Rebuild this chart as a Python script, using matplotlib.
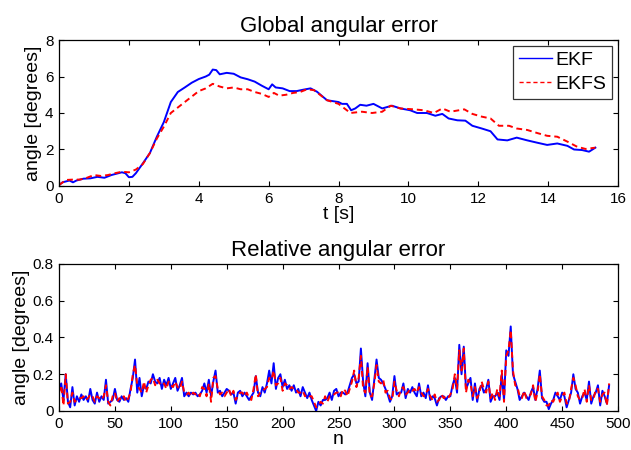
import numpy as np
import matplotlib
matplotlib.use("Agg")
import matplotlib.pyplot as plt

plt.rcParams['font.family'] = ['Liberation Sans', 'DejaVu Sans']

# --- global angular error ---
t_ekf = [0.0, 0.1, 0.2, 0.3, 0.4, 0.5, 0.7, 0.9, 1.1, 1.3, 1.5, 1.7, 1.8, 1.9,
         2.0, 2.1, 2.2, 2.4, 2.6, 2.8, 3.0, 3.2, 3.4, 3.6, 3.8, 4.0, 4.2, 4.3,
         4.4, 4.5, 4.6, 4.8, 5.0, 5.2, 5.4, 5.6, 5.8, 6.0, 6.1, 6.2, 6.4, 6.6,
         6.8, 7.0, 7.2, 7.38, 7.67, 8.0, 8.1, 8.24, 8.36, 8.48, 8.62, 8.8, 9.0,
         9.25, 9.53, 9.77, 10.05, 10.25, 10.53, 10.77, 10.97, 11.15, 11.4,
         11.63, 11.83, 12.1, 12.35, 12.55, 12.83, 13.1, 13.4, 13.69, 13.97,
         14.26, 14.55, 14.74, 14.97, 15.17, 15.35]
ekf_glob = [0.05, 0.2, 0.25, 0.3, 0.2, 0.3, 0.4, 0.42, 0.5, 0.45, 0.6, 0.7, 0.75, 0.7,
            0.48, 0.5, 0.7, 1.24, 1.8, 2.7, 3.5, 4.6, 5.15, 5.4, 5.66, 5.86, 6.0, 6.1,
            6.38, 6.35, 6.12, 6.2, 6.15, 5.95, 5.85, 5.72, 5.5, 5.3, 5.57, 5.4, 5.35, 5.2,
            5.2, 5.28, 5.35, 5.17, 4.7, 4.6, 4.5, 4.5, 4.15, 4.25, 4.45, 4.4, 4.5,
            4.25, 4.4, 4.25, 4.15, 4.0, 4.0, 3.85, 3.95, 3.7, 3.6,
            3.58, 3.3, 3.15, 3.0, 2.55, 2.5, 2.65, 2.5, 2.37, 2.25,
            2.33, 2.2, 2.0, 1.97, 1.88, 2.1]

t_ekfs = [0.0, 0.2, 0.4, 0.6, 0.8, 1.0, 1.2, 1.4, 1.6, 1.8, 2.0, 2.2, 2.4, 2.6,
          2.8, 3.0, 3.2, 3.4, 3.6, 3.8, 4.0, 4.2, 4.4, 4.6, 4.8, 5.0, 5.2, 5.4,
          5.6, 5.8, 6.0, 6.15, 6.3, 6.5, 6.7, 6.9, 7.1, 7.3, 7.67, 8.0, 8.34,
          8.67, 8.96, 9.25, 9.49, 9.77, 10.15, 10.44, 10.73, 10.97, 11.2, 11.6,
          11.83, 12.1, 12.35, 12.59, 12.88, 13.1, 13.4, 13.69, 13.97, 14.26,
          14.55, 14.83, 15.07, 15.35]
ekfs_glob = [0.05, 0.33, 0.35, 0.35, 0.45, 0.6, 0.55, 0.6, 0.7, 0.78, 0.75, 0.9, 1.2, 1.8,
             2.6, 3.25, 4.0, 4.3, 4.6, 4.9, 5.2, 5.35, 5.6, 5.45, 5.35, 5.4, 5.3, 5.3,
             5.15, 5.05, 4.88, 5.1, 4.95, 5.0, 5.1, 5.15, 5.3, 5.25, 4.7, 4.5, 4.0,
             4.07, 4.0, 4.07, 4.4, 4.25, 4.2, 4.15, 4.0, 4.25, 4.07, 4.2,
             3.95, 3.8, 3.7, 3.3, 3.3, 3.15, 3.07, 2.9, 2.75, 2.7,
             2.43, 2.15, 2.03, 2.1]

# --- relative angular error, every second sample n = 0, 2, ..., 492 ---
n = np.arange(0, 494, 2)
ekf_rel = [
    0.12, 0.15, 0.06, 0.20, 0.05, 0.02, 0.13, 0.03, 0.08, 0.05,
    0.09, 0.06, 0.08, 0.05, 0.12, 0.06, 0.04, 0.10, 0.05, 0.08,
    0.06, 0.17, 0.04, 0.05, 0.06, 0.12, 0.06, 0.05, 0.08, 0.06,
    0.07, 0.05, 0.12, 0.18, 0.28, 0.10, 0.18, 0.08, 0.14, 0.12,
    0.16, 0.15, 0.20, 0.16, 0.15, 0.18, 0.12, 0.17, 0.14, 0.18,
    0.12, 0.15, 0.18, 0.11, 0.14, 0.18, 0.08, 0.10, 0.08, 0.10,
    0.09, 0.10, 0.08, 0.09, 0.11, 0.15, 0.10, 0.17, 0.08, 0.16,
    0.22, 0.10, 0.11, 0.08, 0.10, 0.12, 0.11, 0.09, 0.10, 0.04,
    0.10, 0.11, 0.08, 0.10, 0.08, 0.06, 0.08, 0.10, 0.19, 0.10,
    0.08, 0.13, 0.10, 0.15, 0.22, 0.15, 0.26, 0.12, 0.18, 0.20,
    0.13, 0.17, 0.12, 0.14, 0.11, 0.14, 0.10, 0.12, 0.08, 0.13,
    0.10, 0.07, 0.10, 0.06, 0.03, 0.00, 0.05, 0.03, 0.06, 0.06,
    0.07, 0.10, 0.06, 0.11, 0.12, 0.08, 0.10, 0.10, 0.09, 0.10,
    0.14, 0.18, 0.20, 0.15, 0.16, 0.34, 0.16, 0.08, 0.26, 0.10,
    0.06, 0.17, 0.28, 0.18, 0.17, 0.15, 0.12, 0.09, 0.05, 0.08,
    0.19, 0.09, 0.10, 0.10, 0.15, 0.07, 0.12, 0.10, 0.13, 0.10,
    0.08, 0.15, 0.08, 0.10, 0.07, 0.14, 0.06, 0.08, 0.07, 0.03,
    0.07, 0.08, 0.08, 0.06, 0.08, 0.08, 0.14, 0.18, 0.10, 0.36,
    0.20, 0.35, 0.12, 0.15, 0.18, 0.06, 0.15, 0.05, 0.12, 0.14,
    0.10, 0.12, 0.17, 0.05, 0.08, 0.08, 0.10, 0.06, 0.20, 0.06,
    0.33, 0.30, 0.46, 0.20, 0.16, 0.12, 0.06, 0.08, 0.10, 0.08,
    0.06, 0.10, 0.13, 0.06, 0.12, 0.22, 0.07, 0.05, 0.05, 0.01,
    0.04, 0.06, 0.10, 0.08, 0.06, 0.10, 0.08, 0.02, 0.06, 0.10,
    0.20, 0.12, 0.10, 0.04, 0.08, 0.10, 0.06, 0.16, 0.04, 0.08,
    0.10, 0.14, 0.03, 0.11, 0.08, 0.04, 0.14]
ekfs_rel = [
    0.10, 0.14, 0.03, 0.20, 0.04, 0.05, 0.10, 0.05, 0.06, 0.07,
    0.07, 0.08, 0.06, 0.07, 0.09, 0.08, 0.05, 0.08, 0.07, 0.06,
    0.08, 0.14, 0.05, 0.03, 0.08, 0.10, 0.05, 0.07, 0.06, 0.08,
    0.05, 0.07, 0.10, 0.20, 0.25, 0.14, 0.12, 0.10, 0.16, 0.10,
    0.14, 0.17, 0.18, 0.14, 0.17, 0.15, 0.14, 0.15, 0.12, 0.16,
    0.14, 0.13, 0.16, 0.13, 0.12, 0.16, 0.10, 0.09, 0.10, 0.08,
    0.10, 0.09, 0.10, 0.08, 0.13, 0.12, 0.08, 0.15, 0.05, 0.18,
    0.19, 0.12, 0.09, 0.10, 0.08, 0.10, 0.12, 0.08, 0.11, 0.06,
    0.08, 0.10, 0.10, 0.08, 0.10, 0.07, 0.06, 0.12, 0.20, 0.08,
    0.10, 0.11, 0.12, 0.13, 0.18, 0.17, 0.22, 0.14, 0.15, 0.18,
    0.11, 0.15, 0.14, 0.12, 0.13, 0.12, 0.12, 0.10, 0.10, 0.11,
    0.08, 0.09, 0.08, 0.08, 0.05, 0.02, 0.03, 0.05, 0.04, 0.08,
    0.05, 0.08, 0.08, 0.09, 0.10, 0.10, 0.08, 0.12, 0.11, 0.08,
    0.12, 0.16, 0.22, 0.13, 0.18, 0.30, 0.12, 0.10, 0.24, 0.08,
    0.08, 0.15, 0.25, 0.16, 0.15, 0.17, 0.10, 0.11, 0.07, 0.06,
    0.16, 0.11, 0.08, 0.12, 0.13, 0.09, 0.10, 0.12, 0.11, 0.12,
    0.10, 0.13, 0.10, 0.08, 0.09, 0.12, 0.08, 0.06, 0.09, 0.05,
    0.06, 0.09, 0.07, 0.08, 0.07, 0.09, 0.12, 0.20, 0.12, 0.33,
    0.22, 0.34, 0.10, 0.17, 0.15, 0.08, 0.13, 0.07, 0.10, 0.16,
    0.12, 0.10, 0.16, 0.07, 0.10, 0.06, 0.12, 0.08, 0.22, 0.05,
    0.30, 0.33, 0.44, 0.22, 0.14, 0.13, 0.08, 0.07, 0.11, 0.07,
    0.08, 0.09, 0.14, 0.05, 0.10, 0.20, 0.08, 0.06, 0.03, 0.03,
    0.06, 0.05, 0.08, 0.10, 0.05, 0.08, 0.10, 0.04, 0.05, 0.12,
    0.18, 0.14, 0.08, 0.06, 0.07, 0.12, 0.05, 0.14, 0.06, 0.06,
    0.12, 0.12, 0.05, 0.09, 0.10, 0.03, 0.15]


def style(ax):
    ax.tick_params(direction='in', top=True, right=True, length=3.5,
                   width=0.8, labelsize=11, pad=4)
    for s in ax.spines.values():
        s.set_linewidth(0.9)


fig = plt.figure(figsize=(6.31, 4.5), dpi=100)
ax1 = fig.add_axes([0.0935, 0.5867, 0.886, 0.3244])
ax2 = fig.add_axes([0.0935, 0.0867, 0.886, 0.3267])

ax1.plot(t_ekf, ekf_glob, color='blue', linewidth=1.4, label='EKF')
ax1.plot(t_ekfs, ekfs_glob, color='red', linewidth=1.4, dashes=(3, 2), label='EKFS')
ax1.set_xlim(0, 16)
ax1.set_ylim(0, 8)
ax1.set_xticks(np.arange(0, 17, 2))
ax1.set_yticks(np.arange(0, 9, 2))
ax1.set_title('Global angular error', fontsize=16, pad=6)
ax1.set_xlabel('t [s]', fontsize=14, labelpad=0)
ax1.set_ylabel('angle [degrees]', fontsize=14, labelpad=2)
leg = ax1.legend(loc='upper right', fontsize=14, frameon=True, fancybox=False,
                 edgecolor='black', handlelength=1.7, handletextpad=0.2,
                 borderpad=0.3, labelspacing=0.3, borderaxespad=0.3)
leg.get_frame().set_linewidth(0.9)
for line in leg.get_lines():
    line.set_linewidth(1.0)
style(ax1)

ax2.plot(n, ekf_rel, color='blue', linewidth=1.4)
ax2.plot(n, ekfs_rel, color='red', linewidth=1.4, dashes=(3, 2))
ax2.set_xlim(0, 500)
ax2.set_ylim(0, 0.8)
ax2.set_xticks(np.arange(0, 501, 50))
ax2.set_yticks([0, 0.2, 0.4, 0.6, 0.8])
ax2.set_yticklabels(['0', '0.2', '0.4', '0.6', '0.8'])
ax2.set_title('Relative angular error', fontsize=16, pad=6)
ax2.set_xlabel('n', fontsize=14, labelpad=0)
ax2.set_ylabel('angle [degrees]', fontsize=14, labelpad=2)
style(ax2)

fig.savefig('out.png', dpi=100)
